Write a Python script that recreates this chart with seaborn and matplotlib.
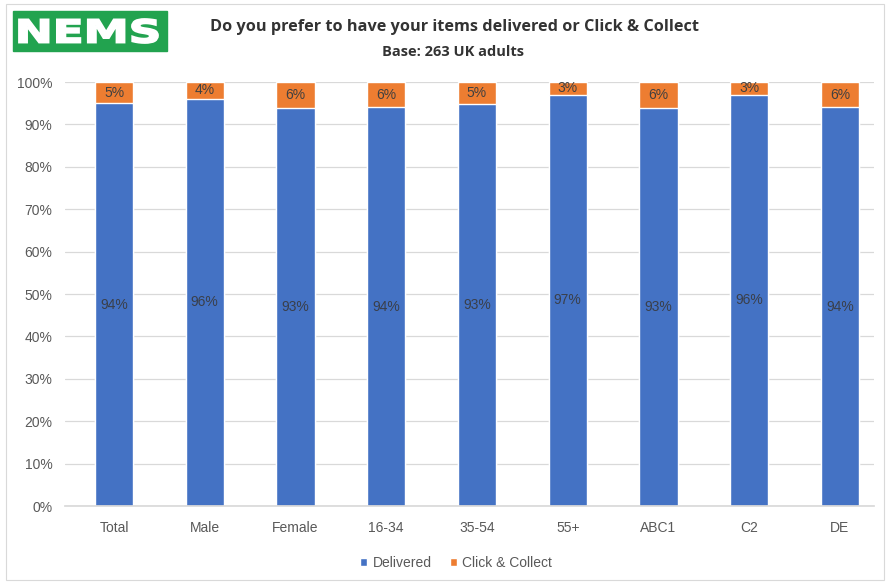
import numpy as np
import pandas as pd
import matplotlib.pyplot as plt
import seaborn as sns
from matplotlib.patches import Rectangle, PathPatch
from matplotlib.textpath import TextPath
from matplotlib.font_manager import FontProperties
from matplotlib.transforms import Affine2D, IdentityTransform

sns.set_theme(style="white")
plt.rcParams['font.family'] = ['Liberation Sans', 'DejaVu Sans']

# data (percent labels)
groups = ["Total", "Male", "Female", "16-34", "35-54", "55+", "ABC1", "C2", "DE"]
delivered = [94, 96, 93, 94, 93, 97, 93, 96, 94]
click_collect = [5, 4, 6, 6, 5, 3, 6, 3, 6]

# 100% stacked: normalise each column
tot = np.array(delivered) + np.array(click_collect)
df = pd.DataFrame({
    "group": groups,
    "Delivered": np.array(delivered) / tot,
    "Click & Collect": np.array(click_collect) / tot,
})
df["top"] = df["Delivered"] + df["Click & Collect"]

blue = "#4472C4"
orange = "#ED7D31"
txt = "#595959"

fig = plt.figure(figsize=(8.9, 5.85), dpi=100)
ax = fig.add_axes([65 / 890, 79 / 585, 809 / 890, 424 / 585])

# orange drawn full-height first, blue on top
sns.barplot(data=df, x="group", y="top", color=orange, width=0.42,
            saturation=1, ax=ax, label="Click & Collect")
sns.barplot(data=df, x="group", y="Delivered", color=blue, width=0.42,
            saturation=1, ax=ax, label="Delivered")

for i, row in df.iterrows():
    ax.text(i, row["Delivered"] / 2, f"{delivered[i]}%", ha="center", va="center",
            fontsize=10, color="#3A3F4A")
    ax.text(i, row["Delivered"] + row["Click & Collect"] / 2, f"{click_collect[i]}%",
            ha="center", va="center", fontsize=10, color="#404040")

ax.set_ylim(0, 1.0)
ticks = np.arange(0, 1.01, 0.1)
ax.set_yticks(ticks)
ax.set_yticklabels([f"{int(round(v * 100))}%" for v in ticks], fontsize=10, color=txt)
ax.tick_params(axis="x", labelsize=10, labelcolor=txt, pad=11, length=0)
ax.tick_params(axis="y", pad=9, length=0)
ax.set_xlabel("")
ax.set_ylabel("")
ax.set_xlim(-0.54, 8.375)
ax.yaxis.grid(True, color="#D9D9D9", linewidth=0.9)
ax.set_axisbelow(True)
for s in ["top", "right", "left"]:
    ax.spines[s].set_visible(False)
ax.spines["bottom"].set_color("#D9D9D9")

handles, labels = ax.get_legend_handles_labels()
order = [labels.index("Delivered"), labels.index("Click & Collect")]
ax.legend([handles[k] for k in order], [labels[k] for k in order],
          loc="center", bbox_to_anchor=(456 / 890, 22 / 585),
          bbox_transform=fig.transFigure, ncol=2, frameon=False,
          fontsize=10, handlelength=0.5, handleheight=0.5, columnspacing=1.3,
          handletextpad=0.4, labelcolor=txt)

# logo
fig.patches.append(Rectangle((13 / 890, 1 - 51 / 585), 154 / 890, 40 / 585,
                             transform=fig.transFigure, color="#22A34F", zorder=0))
tp = TextPath((0, 0), "NEMS", size=30,
              prop=FontProperties(family="DejaVu Sans", weight="bold"))
ext = tp.get_extents()
sx = 139 / ext.width
sy = 24 / ext.height
tr = Affine2D().translate(-ext.x0, -ext.y0).scale(sx, sy).translate(19, 585 - 43)
fig.patches.append(PathPatch(tp, transform=tr + IdentityTransform(),
                             facecolor="white", edgecolor="white", linewidth=1.3,
                             zorder=2))

fig.text(454 / 890, 1 - 27 / 585, "Do you prefer to have your items delivered or Click & Collect",
         ha="center", va="center", fontsize=11.7, fontweight="bold", color="#333333",
         family=["Open Sans", "DejaVu Sans"])
fig.text(453 / 890, 1 - 52 / 585, "Base: 263 UK adults", ha="center", va="center",
         fontsize=10.5, fontweight="bold", color="#333333",
         family=["Open Sans", "DejaVu Sans"])

# outer border
fig.patches.append(Rectangle((6 / 890, 5 / 585), 878 / 890, 576 / 585,
                             transform=fig.transFigure, fill=False,
                             edgecolor="#D9D9D9", linewidth=0.8))

fig.savefig("out.png", dpi=100)
